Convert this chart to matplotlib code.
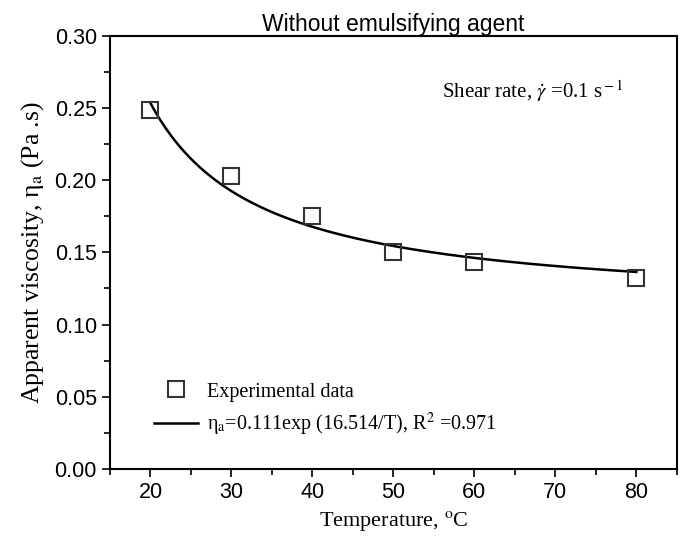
import numpy as np
import matplotlib
matplotlib.use("Agg")
import matplotlib.pyplot as plt
from matplotlib.ticker import MultipleLocator, FormatStrFormatter

# measured apparent viscosity vs temperature
temp_c = [20, 30, 40, 50, 60, 80]
visc = [0.249, 0.203, 0.175, 0.150, 0.143, 0.132]

# fitted model: eta_a = a * exp(b / T)
fit_a = 0.111
fit_b = 16.514
fit_r2 = 0.971

plt.rcParams['mathtext.fontset'] = 'stix'
serif = 'Liberation Serif'
sans = 'Liberation Sans'

fig = plt.figure(figsize=(6.83, 5.37), dpi=100)
ax = fig.add_axes([0.161, 0.127, 0.830, 0.806])

t_fit = np.linspace(min(temp_c), max(temp_c), 200)
v_fit = fit_a * np.exp(fit_b / t_fit)

ax.plot(temp_c, visc, linestyle='none', marker='s', markersize=11,
        markerfacecolor='none', markeredgecolor='#333333', markeredgewidth=1.5,
        label='Experimental data', zorder=3)
ax.plot(t_fit, v_fit, color='black', linewidth=1.8,
        label='η$_{\\rm a}$=%.3fexp (%.3f/T), R$^{\\rm 2}$ =%.3f' % (fit_a, fit_b, fit_r2))

ax.set_xlim(15, 85)
ax.set_ylim(0.0, 0.30)
ax.xaxis.set_major_locator(MultipleLocator(10))
ax.xaxis.set_minor_locator(MultipleLocator(5))
ax.yaxis.set_major_locator(MultipleLocator(0.05))
ax.yaxis.set_minor_locator(MultipleLocator(0.025))
ax.yaxis.set_major_formatter(FormatStrFormatter('%.2f'))
ax.tick_params(which='both', direction='out', top=False, right=False, width=1.2)
ax.tick_params(which='major', length=6, labelsize=15.5)
ax.tick_params(which='minor', length=4)
for lab in ax.get_xticklabels() + ax.get_yticklabels():
    lab.set_fontfamily(sans)
for sp in ax.spines.values():
    sp.set_linewidth(1.5)

ax.set_xlabel('Temperature, $^{\\rm o}$C', fontsize=16, family=serif, labelpad=4)
ax.set_ylabel('Apparent viscosity, η$_{\\rm a}$ (Pa .s)', fontsize=18.5, family=serif, labelpad=6)
ax.set_title('Without emulsifying agent', fontsize=16.5, family=sans, pad=3)

ax.text(0.585, 0.873, 'Shear rate, $\\dot{\\gamma}$ =0.1 s$^{\\rm -1}$', transform=ax.transAxes,
        fontsize=15, family=serif, va='center')

ax.legend(loc='lower left', bbox_to_anchor=(0.045, 0.03), frameon=False,
          prop={'family': serif, 'size': 14.5}, handlelength=2.2, labelspacing=0.45,
          handletextpad=0.45)

fig.savefig('out.png', dpi=100)
